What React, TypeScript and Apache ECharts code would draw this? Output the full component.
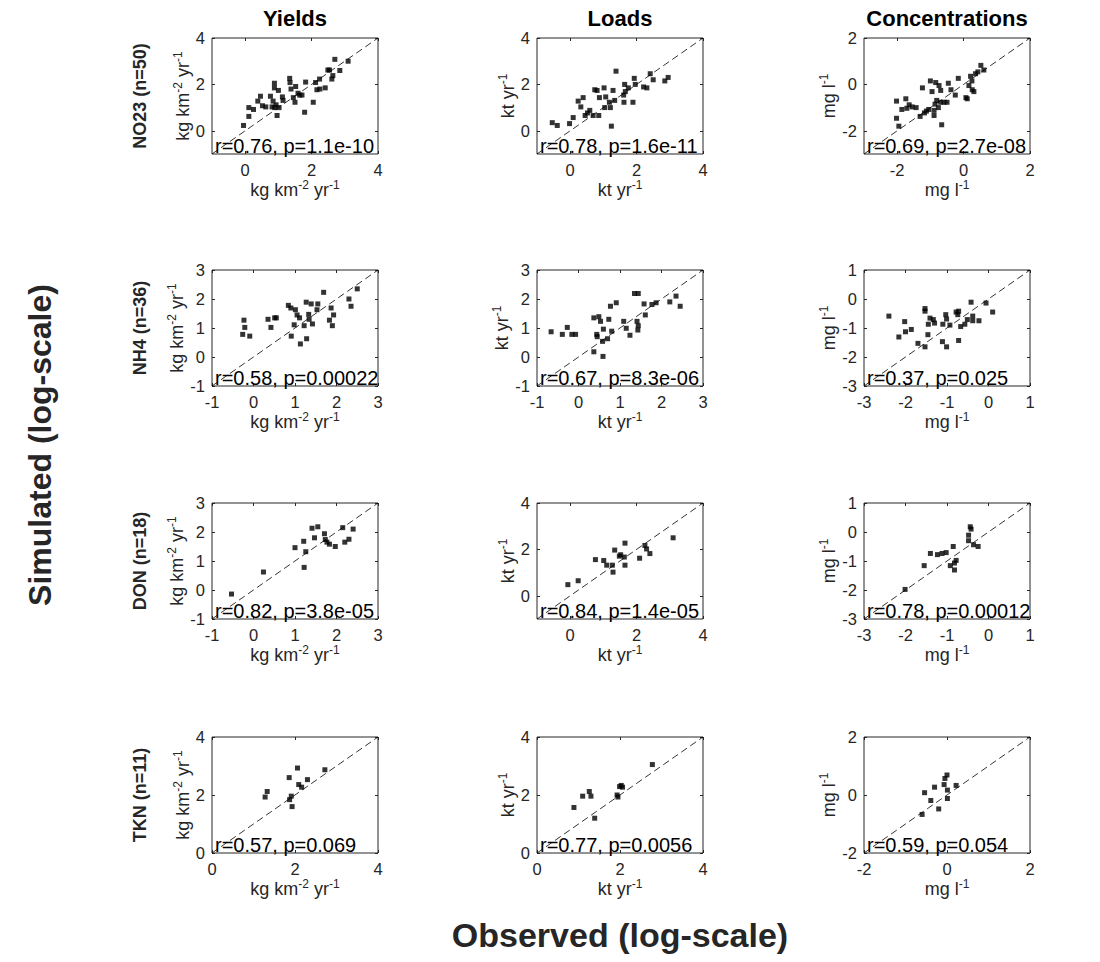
import React, { useEffect, useRef } from "react";
import * as echarts from "echarts";

const FONT = "'Liberation Sans', Arial, Helvetica, sans-serif";

const colTitles = ["Yields", "Loads", "Concentrations"];
const rowLabels = ["NO23 (n=50)", "NH4 (n=36)", "DON (n=18)", "TKN (n=11)"];
const unitNames = ["{a|kg km}{s|-2}{a| yr}{s|-1}", "{a|kt yr}{s|-1}", "{a|mg l}{s|-1}"];

// [min, max] of both axes for each panel, row-major (rows: NO23, NH4, DON, TKN)
const axisRanges = [
  [-1, 4], [-1, 4], [-3, 2],
  [-1, 3], [-1, 3], [-3, 1],
  [-1, 3], [-1, 4], [-3, 1],
  [0, 4], [0, 4], [-2, 2],
];
const tickValues = [
  [0, 2, 4], [0, 2, 4], [-2, 0, 2],
  [-1, 0, 1, 2, 3], [-1, 0, 1, 2, 3], [-3, -2, -1, 0, 1],
  [-1, 0, 1, 2, 3], [0, 2, 4], [-3, -2, -1, 0, 1],
  [0, 2, 4], [0, 2, 4], [-2, 0, 2],
];
const statLabels = [
  "r=0.76, p=1.1e-10", "r=0.78, p=1.6e-11", "r=0.69, p=2.7e-08",
  "r=0.58, p=0.00022", "r=0.67, p=8.3e-06", "r=0.37, p=0.025",
  "r=0.82, p=3.8e-05", "r=0.84, p=1.4e-05", "r=0.78, p=0.00012",
  "r=0.57, p=0.069", "r=0.77, p=0.0056", "r=0.59, p=0.054",
];

// [observed, simulated] pairs (log10)
const no23Yields = [
  [-0.05, 0.23], [0.11, 0.62], [0.11, 1.0], [0.25, 0.92], [0.38, 1.28], [0.46, 1.49], [0.52, 1.08],
  [0.62, 1.03], [0.76, 1.49], [0.81, 1.03], [0.84, 1.28], [0.88, 2.05], [0.88, 1.85], [0.89, 1.0],
  [0.93, 1.12], [0.96, 0.66], [1.0, 1.74], [1.02, 1.0], [1.12, 1.46], [1.14, 1.31], [1.34, 2.26],
  [1.35, 2.08], [1.38, 1.8], [1.45, 1.43], [1.5, 1.23], [1.52, 1.91], [1.59, 1.62], [1.64, 1.54],
  [1.71, 1.54], [1.79, 0.8], [1.82, 2.1], [2.05, 1.23], [2.12, 2.08], [2.16, 1.77], [2.24, 2.23],
  [2.25, 1.8], [2.41, 1.85], [2.49, 2.62], [2.54, 2.62], [2.61, 2.23], [2.64, 2.38], [2.7, 3.08],
  [2.85, 2.6], [3.1, 3.0],
];
const no23Loads = [
  [-0.54, 0.35], [-0.39, 0.23], [-0.02, 0.31], [0.09, 0.57], [0.24, 1.28], [0.32, 1.03], [0.39, 1.43],
  [0.45, 0.66], [0.52, 0.77], [0.59, 0.88], [0.69, 0.66], [0.74, 1.77], [0.81, 1.74], [0.86, 0.66],
  [0.88, 1.43], [1.02, 1.85], [1.07, 1.46], [1.04, 1.0], [1.18, 1.23], [1.21, 1.0], [1.24, 0.2],
  [1.29, 1.74], [1.34, 1.31], [1.38, 2.57], [1.61, 1.54], [1.62, 1.23], [1.64, 2.0], [1.66, 1.69],
  [1.75, 1.85], [1.89, 1.23], [1.93, 2.26], [1.96, 2.0], [2.21, 1.89], [2.31, 1.85], [2.41, 2.46],
  [2.5, 2.2], [2.85, 2.15], [2.95, 2.3],
];
const no23Conc = [
  [-2.02, -0.72], [-2.02, -1.46], [-1.95, -1.8], [-1.86, -1.08], [-1.74, -0.62], [-1.71, -1.03],
  [-1.64, -0.88], [-1.55, -0.97], [-1.43, -1.0], [-1.31, -1.38], [-1.24, -0.15], [-1.18, -1.23],
  [-1.12, -1.15], [-1.05, -1.08], [-1.0, 0.15], [-0.95, -0.31], [-0.89, -1.12], [-0.89, -1.34],
  [-0.86, -0.85], [-0.84, 0.08], [-0.81, -0.69], [-0.76, -1.0], [-0.74, -0.05], [-0.69, -0.26],
  [-0.69, -0.77], [-0.66, -1.74], [-0.59, -0.77], [-0.5, -0.77], [-0.46, 0.05], [-0.38, -0.23],
  [-0.25, -0.46], [-0.16, 0.26], [0.07, -0.57], [0.11, -0.62], [0.16, -0.05], [0.21, 0.35],
  [0.25, 0.15], [0.26, -0.23], [0.31, -0.31], [0.36, 0.46], [0.43, 0.54], [0.52, 0.82], [0.61, 0.62],
];
const nh4Yields = [
  [-0.23, 1.27], [-0.21, 1.02], [-0.26, 0.78], [-0.09, 0.72], [0.35, 1.3], [0.42, 1.02], [0.51, 1.35],
  [0.55, 1.35], [0.84, 1.78], [0.91, 0.72], [0.9, 1.69], [0.98, 1.11], [1.01, 1.63], [1.05, 1.45],
  [1.11, 1.35], [1.13, 0.45], [1.22, 1.08], [1.27, 1.89], [1.28, 0.63], [1.33, 1.47], [1.34, 1.3],
  [1.39, 1.83], [1.42, 1.14], [1.53, 1.63], [1.55, 1.83], [1.69, 2.23], [1.83, 1.27], [1.87, 1.69],
  [1.9, 1.08], [1.93, 1.45], [2.3, 2.0], [2.35, 1.75], [2.5, 2.35],
];
const nh4Loads = [
  [-0.66, 0.87], [-0.39, 0.78], [-0.27, 1.02], [-0.16, 0.78], [-0.07, 0.78], [0.37, 0.18], [0.37, 1.35],
  [0.44, 0.78], [0.45, 0.7], [0.49, 1.39], [0.53, 1.23], [0.58, 0.54], [0.6, 0.96], [0.59, 0.02],
  [0.7, 0.63], [0.73, 1.3], [0.77, 1.75], [0.8, 0.89], [0.91, 1.87], [1.09, 1.23], [1.15, 0.99],
  [1.24, 0.75], [1.35, 2.19], [1.44, 2.19], [1.41, 1.23], [1.44, 1.08], [1.43, 0.93], [1.58, 1.83],
  [1.61, 1.45], [1.77, 1.81], [1.87, 1.87], [2.2, 1.9], [2.35, 2.1], [2.45, 1.75],
];
const nh4Conc = [
  [-2.4, -0.59], [-2.16, -1.31], [-2.02, -0.78], [-2.0, -1.13], [-1.86, -1.05], [-1.7, -1.53],
  [-1.53, -1.65], [-1.53, -0.33], [-1.53, -0.42], [-1.46, -1.23], [-1.45, -0.87], [-1.41, -0.66],
  [-1.33, -0.71], [-1.3, -0.83], [-1.11, -1.47], [-1.1, -0.87], [-1.03, -0.54], [-1.01, -0.69],
  [-1.01, -1.65], [-0.93, -0.9], [-0.78, -0.45], [-0.74, -0.54], [-0.72, -0.42], [-0.72, -1.43],
  [-0.67, -0.95], [-0.57, -0.87], [-0.51, -0.71], [-0.42, -0.11], [-0.38, -0.59], [-0.38, -0.75],
  [-0.23, -0.75], [-0.06, -0.14], [0.1, -0.45],
];
const donYields = [
  [-0.53, -0.14], [0.24, 0.62], [1.0, 1.46], [1.21, 1.68], [1.22, 0.78], [1.26, 1.32], [1.41, 2.13],
  [1.47, 1.8], [1.55, 2.18], [1.71, 1.94], [1.73, 1.74], [1.77, 1.65], [1.83, 1.58], [1.97, 1.5],
  [2.15, 2.15], [2.2, 1.65], [2.3, 1.75], [2.4, 2.1],
];
const donLoads = [
  [-0.07, 0.48], [0.24, 0.65], [0.76, 1.56], [1.01, 1.52], [1.1, 1.32], [1.27, 1.32], [1.29, 1.02],
  [1.34, 1.97], [1.48, 1.71], [1.52, 1.77], [1.63, 1.67], [1.65, 2.27], [1.65, 1.32], [2.09, 1.62],
  [2.25, 2.17], [2.3, 2.02], [2.4, 1.82], [3.1, 2.5],
];
const donConc = [
  [-2.01, -1.98], [-1.55, -1.16], [-1.4, -0.74], [-1.23, -0.78], [-1.12, -0.74], [-1.02, -0.71],
  [-0.92, -1.16], [-0.85, -0.5], [-0.82, -1.07], [-0.78, -0.98], [-0.82, -1.31], [-0.48, -0.11],
  [-0.48, -0.3], [-0.44, 0.18], [-0.42, 0.1], [-0.36, -0.44], [-0.25, -0.5],
];
const tknYields = [
  [1.28, 1.93], [1.33, 2.12], [1.86, 2.6], [2.06, 2.93], [1.87, 1.84], [1.91, 1.96], [1.93, 1.6],
  [2.09, 2.36], [2.16, 2.27], [2.3, 2.53], [2.72, 2.87],
];
const tknLoads = [
  [0.89, 1.57], [1.1, 1.96], [1.26, 2.12], [1.3, 1.96], [1.39, 1.2], [1.93, 2.0], [1.95, 1.93],
  [1.99, 2.29], [2.03, 2.33], [2.06, 2.27], [2.78, 3.05],
];
const tknConc = [
  [-0.6, -0.67], [-0.54, 0.08], [-0.39, -0.19], [-0.3, 0.27], [-0.2, -0.48], [-0.07, 0.36],
  [-0.05, 0.57], [0.0, 0.69], [0.01, 0.17], [0.01, -0.12], [0.22, 0.33],
];

const panelData = [
  no23Yields, no23Loads, no23Conc,
  nh4Yields, nh4Loads, nh4Conc,
  donYields, donLoads, donConc,
  tknYields, tknLoads, tknConc,
];

// layout
const gridLefts = [212, 537, 864];
const gridTops = [38, 270, 503, 737];
const gridW = 166;
const gridH = 116;
const AXIS_COLOR = "#262626";

export default function App() {
  const ref = useRef<HTMLDivElement>(null);

  useEffect(() => {
    document.body.style.margin = "0";
    if (!ref.current) return;
    const chart = echarts.init(ref.current, undefined, { renderer: "svg" });

    const grids: any[] = [];
    const xAxes: any[] = [];
    const yAxes: any[] = [];
    const series: any[] = [];
    const graphics: any[] = [];
    const n = panelData.length;

    const nameStyle = {
      color: AXIS_COLOR,
      fontFamily: FONT,
      fontSize: 18,
      rich: {
        a: { fontSize: 18, lineHeight: 22, fontFamily: FONT, color: AXIS_COLOR },
        s: { fontSize: 12, lineHeight: 12, verticalAlign: "top", fontFamily: FONT, color: AXIS_COLOR },
      },
    };

    for (let i = 0; i < n; i++) {
      const r = Math.floor(i / 3);
      const c = i % 3;
      const [mn, mx] = axisRanges[i];
      const ticks = tickValues[i];
      grids.push({
        left: gridLefts[c],
        top: gridTops[r],
        width: gridW,
        height: gridH,
        show: true,
        borderColor: AXIS_COLOR,
        borderWidth: 1,
        backgroundColor: "#fff",
      });
      const baseAxis = {
        gridIndex: i,
        type: "value",
        min: mn,
        max: mx,
        splitLine: { show: false },
        axisLine: { show: false, onZero: false },
        axisTick: { show: true, inside: true, length: 3, customValues: ticks, lineStyle: { color: AXIS_COLOR } },
      };
      xAxes.push({
        ...baseAxis,
        position: "bottom",
        axisLabel: { show: true, customValues: ticks, fontSize: 16.5, color: AXIS_COLOR, fontFamily: FONT, margin: 7 },
        name: unitNames[c],
        nameLocation: "middle",
        nameGap: 21,
        nameTextStyle: nameStyle,
      });
      yAxes.push({
        ...baseAxis,
        position: "left",
        axisLabel: { show: true, customValues: ticks, fontSize: 16.5, color: AXIS_COLOR, fontFamily: FONT, margin: 7 },
        name: unitNames[c],
        nameLocation: "middle",
        nameGap: 18,
        nameTextStyle: nameStyle,
      });
      series.push({
        type: "line",
        xAxisIndex: i,
        yAxisIndex: i,
        data: [[mn, mn], [mx, mx]],
        symbol: "none",
        silent: true,
        lineStyle: { color: "#000", width: 0.8, type: [7, 4] },
        z: 1,
      });
      series.push({
        type: "scatter",
        xAxisIndex: i,
        yAxisIndex: i,
        data: panelData[i],
        symbol: "rect",
        symbolSize: 5,
        itemStyle: { color: "#000" },
        z: 2,
      });
      graphics.push({
        type: "text",
        x: gridLefts[c] + 3,
        y: gridTops[r] + gridH + 2,
        z: 10,
        style: {
          text: statLabels[i],
          fontSize: 20,
          fontFamily: FONT,
          fill: "#000",
          textAlign: "left",
          textVerticalAlign: "bottom",
        },
      });
    }
    // top and right tick-only axes
    for (let i = 0; i < n; i++) {
      const [mn, mx] = axisRanges[i];
      const ticks = tickValues[i];
      const ax = {
        gridIndex: i,
        type: "value",
        min: mn,
        max: mx,
        splitLine: { show: false },
        axisLine: { show: false, onZero: false },
        axisLabel: { show: false },
        axisTick: { show: true, inside: true, length: 3, customValues: ticks, lineStyle: { color: AXIS_COLOR } },
      };
      xAxes.push({ ...ax, position: "top" });
      yAxes.push({ ...ax, position: "right" });
    }

    colTitles.forEach((t, c) => {
      graphics.push({
        type: "text",
        x: gridLefts[c] + gridW / 2,
        y: 18,
        style: { text: t, fontSize: 22, fontWeight: "bold", fontFamily: FONT, fill: "#000", textAlign: "center", textVerticalAlign: "middle" },
      });
    });
    rowLabels.forEach((t, r) => {
      graphics.push({
        type: "text",
        x: 140,
        y: gridTops[r] + gridH / 2,
        rotation: Math.PI / 2,
        style: { text: t, fontSize: 18, fontWeight: "bold", fontFamily: FONT, fill: "#262626", textAlign: "center", textVerticalAlign: "middle" },
      });
    });
    graphics.push({
      type: "text",
      x: 40,
      y: 445,
      rotation: Math.PI / 2,
      style: { text: "Simulated (log-scale)", fontSize: 32, fontWeight: "bold", fontFamily: FONT, fill: "#262626", textAlign: "center", textVerticalAlign: "middle" },
    });
    graphics.push({
      type: "text",
      x: 620,
      y: 935,
      style: { text: "Observed (log-scale)", fontSize: 34, fontWeight: "bold", fontFamily: FONT, fill: "#262626", textAlign: "center", textVerticalAlign: "middle" },
    });

    chart.setOption({
      animation: false,
      backgroundColor: "#fff",
      grid: grids,
      xAxis: xAxes,
      yAxis: yAxes,
      series,
      graphic: graphics,
    });
    return () => chart.dispose();
  }, []);

  return <div ref={ref} style={{ width: 1100, height: 962, position: "absolute", left: 0, top: 0 }} />;
}
